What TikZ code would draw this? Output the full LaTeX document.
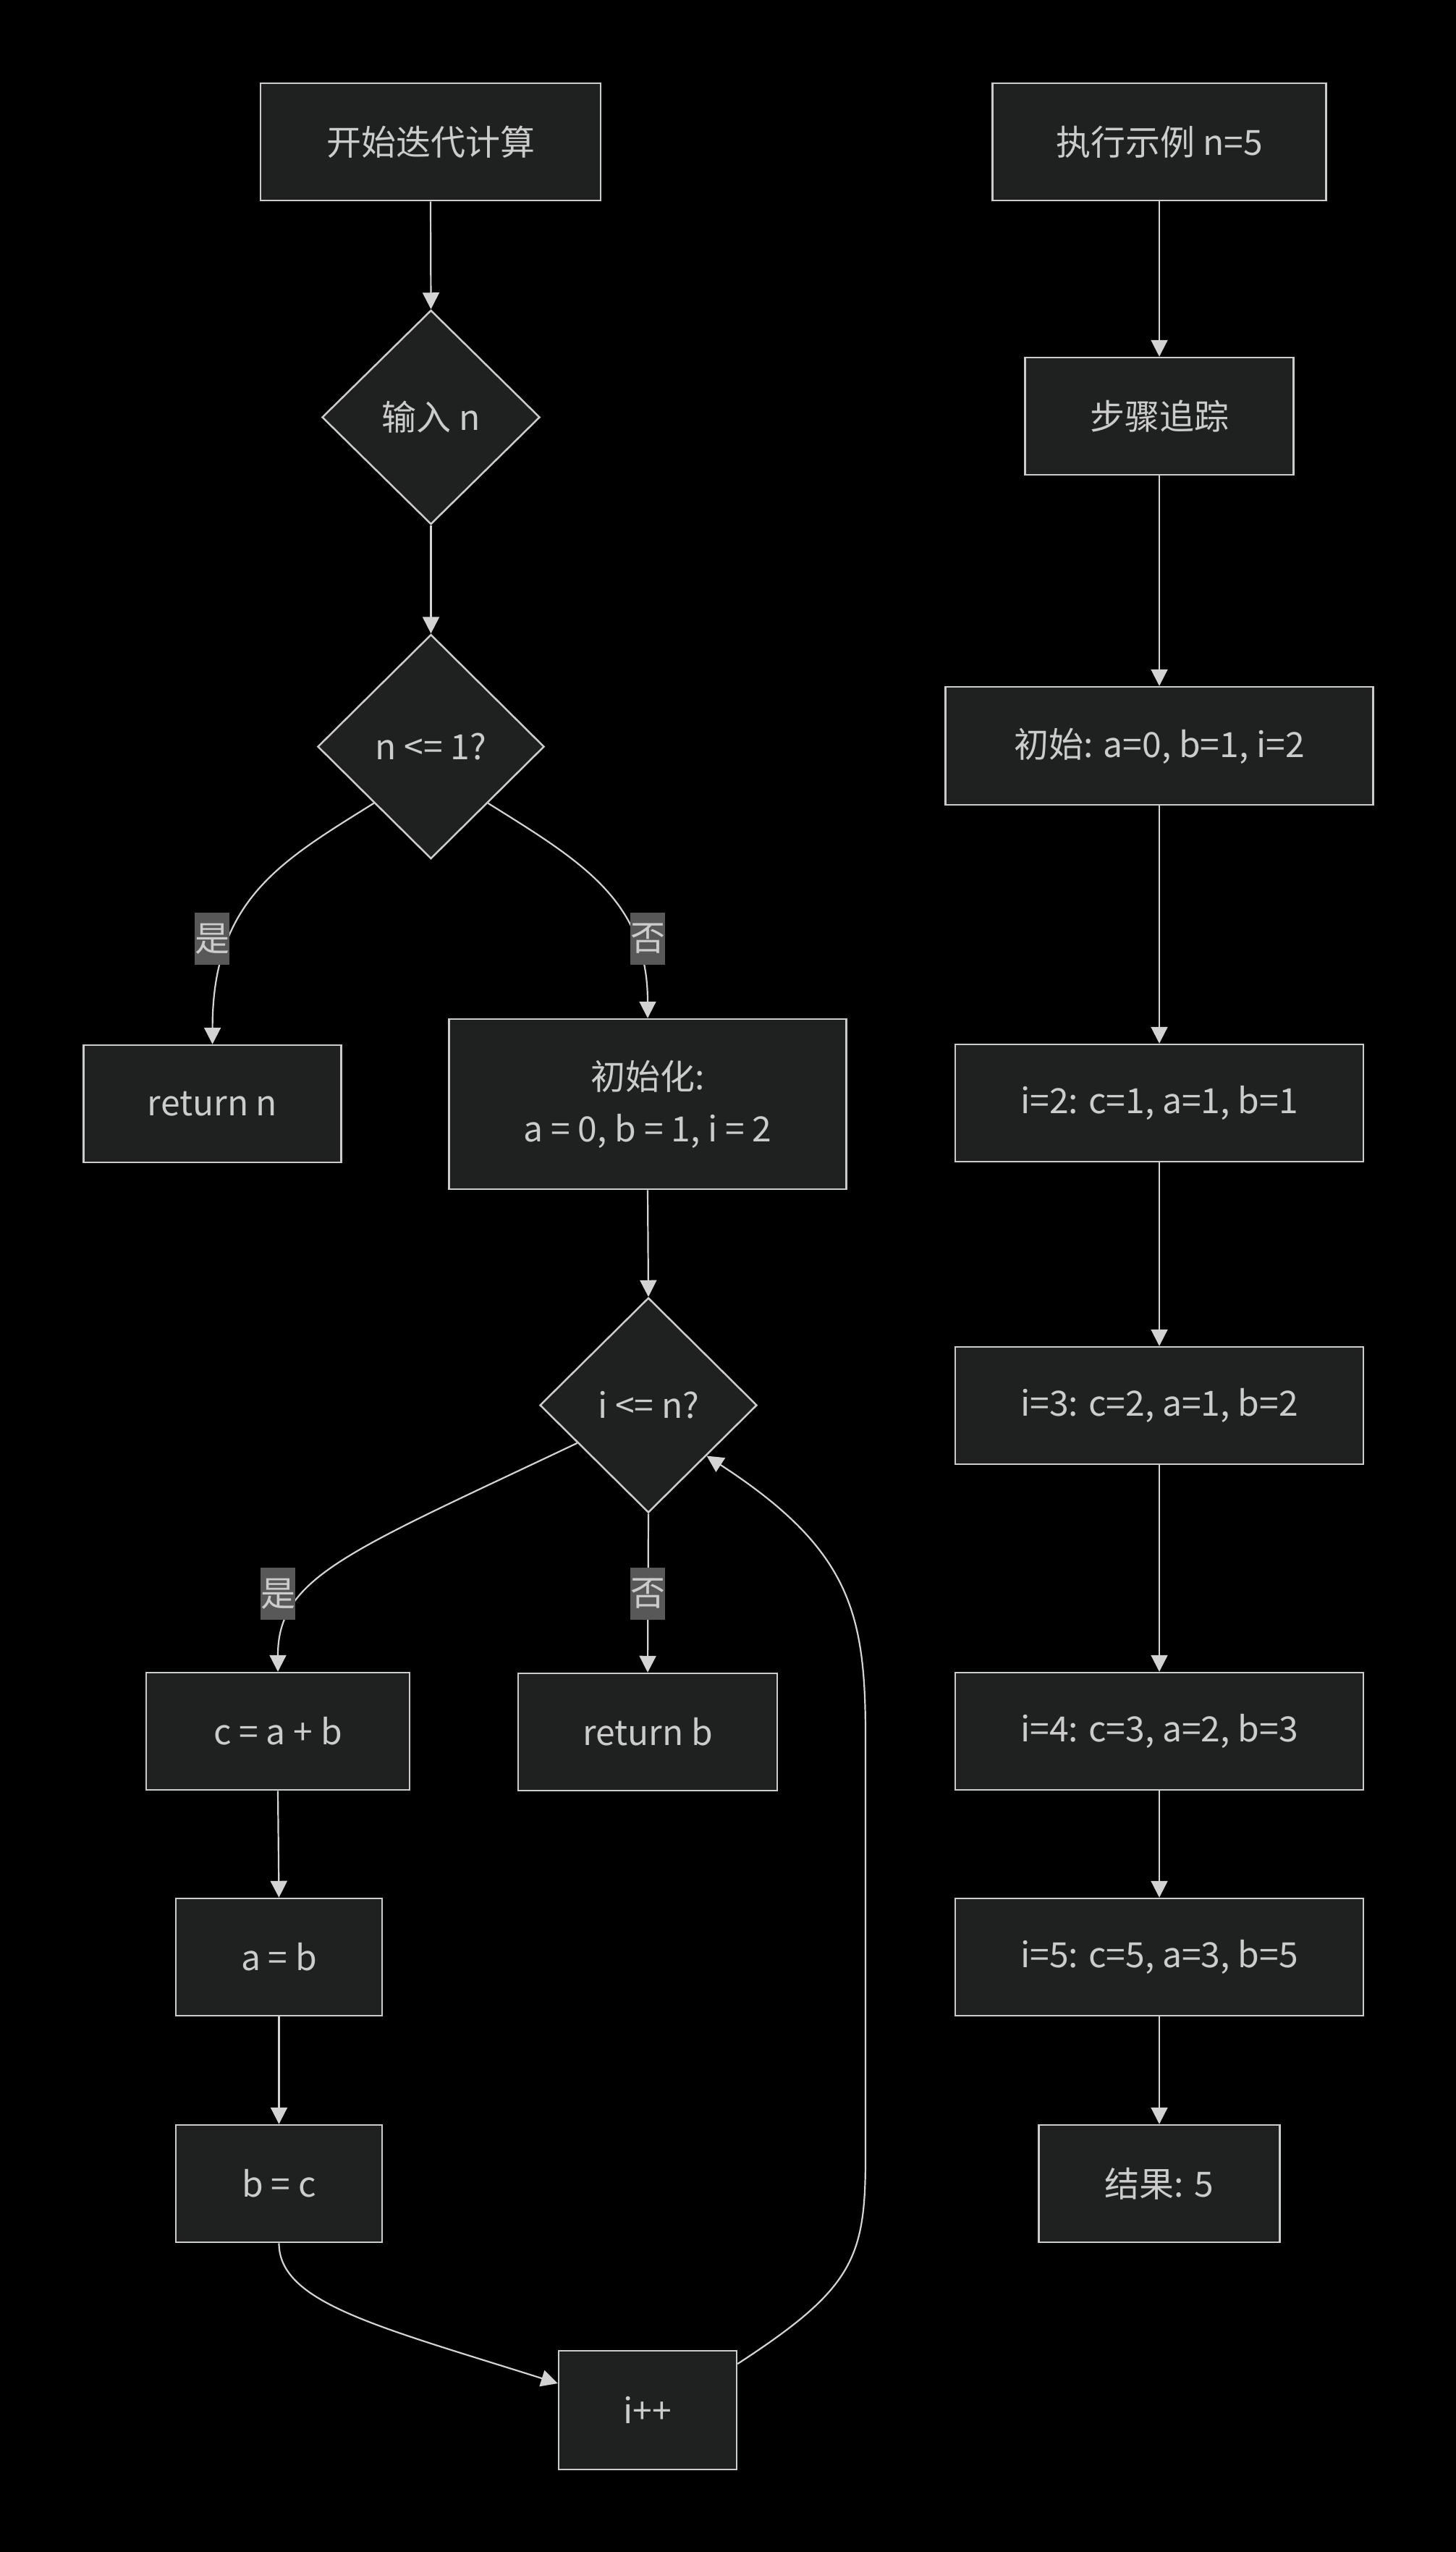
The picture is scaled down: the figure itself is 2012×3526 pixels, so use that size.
\documentclass[tikz,border=0pt]{standalone}
\usepackage{fontspec}
\setmainfont{Noto Sans CJK SC}
\usetikzlibrary{shapes.geometric,arrows.meta,calc}
\definecolor{nfill}{HTML}{1F2020}
\definecolor{nstroke}{HTML}{CCCCCC}
\definecolor{ntext}{HTML}{CCCCCC}
\definecolor{lbg}{HTML}{585858}
\definecolor{lcol}{HTML}{D3D3D3}
\begin{document}
\begin{tikzpicture}[x=1pt,y=-1pt,
  every node/.style={font=\fontsize{48}{72}\selectfont, text=ntext},
  box/.style={draw=nstroke, fill=nfill, line width=2.5pt, inner sep=0pt, minimum height=162pt},
  dia/.style={diamond, draw=nstroke, fill=nfill, line width=2.5pt, inner sep=0pt, aspect=1},
  conn/.style={draw=lcol, line width=2.2pt, -{Triangle[length=23pt,width=23pt]}},
  elab/.style={fill=lbg, inner sep=0pt, minimum width=48pt, minimum height=72pt}]
\fill[black] (0,0) rectangle (2012,3526);
\useasboundingbox (0,0) rectangle (2012,3526);

% left column
\node[box, minimum width=470pt] (s) at (595,196) {开始迭代计算};
\node[dia, minimum width=301pt, minimum height=296pt] (d1) at (595.5,576.5) {输入 n};
\node[dia, minimum width=313pt, minimum height=310pt] (d2) at (595.5,1031.6) {n <= 1?};
\node[box, minimum width=356pt] (rn) at (293.6,1525) {return n};
\node[box, minimum width=549pt, minimum height=235pt, align=center] (init) at (895,1525.5) {初始化:\\a = 0, b = 1, i = 2};
\node[dia, minimum width=300pt, minimum height=297pt] (d3) at (896,1941.5) {i <= n?};
\node[box, minimum width=364pt] (c) at (384,2392) {c = a + b};
\node[box, minimum width=358pt] (rb) at (895,2393) {return b};
\node[box, minimum width=285pt] (ab) at (385.5,2704) {a = b};
\node[box, minimum width=285pt] (bc) at (385.5,3017) {b = c};
\node[box, minimum width=246pt, minimum height=164pt] (inc) at (895,3330) {i++};

% right column
\node[box, minimum width=461pt] (r1) at (1602,196) {执行示例 n=5};
\node[box, minimum width=371pt] (r2) at (1602,575) {步骤追踪};
\node[box, minimum width=591pt, minimum height=163pt] (r3) at (1602,1030.5) {初始: a=0, b=1, i=2};
\node[box, minimum width=564pt] (r4) at (1602,1524) {i=2: c=1, a=1, b=1};
\node[box, minimum width=564pt] (r5) at (1602,1942) {i=3: c=2, a=1, b=2};
\node[box, minimum width=564pt] (r6) at (1602,2392) {i=4: c=3, a=2, b=3};
\node[box, minimum width=564pt] (r7) at (1602,2704) {i=5: c=5, a=3, b=5};
\node[box, minimum width=333pt] (r8) at (1602,3017) {结果: 5};

\coordinate (lp1) at (1196,2980);
\coordinate (lp2) at (1196,2400);

% left edges
\draw[conn] (s.south) -- (d1.north);
\draw[conn] (d1.south) -- (d2.north);
\draw[conn] (d2.south west) .. controls ($(d2.south west)+(-128,80)$) and ($(rn.north)+(0,-200)$) .. (rn.north);
\draw[conn] (d2.south east) .. controls ($(d2.south east)+(128,80)$) and ($(init.north)+(0,-163)$) .. (init.north);
\draw[conn] (init.south) -- (d3.north);
\draw[conn] (d3.208) .. controls ($(d3.208)+(-318,151)$) and ($(c.north)+(0,-131)$) .. (c.north);
\draw[conn] (d3.south) -- (rb.north);
\draw[conn] (c.south) -- (ab.north);
\draw[conn] (ab.south) -- (bc.north);
\draw[conn] (bc.south) .. controls ($(bc.south)+(0,82)$) and ($(inc.west)+(-250,-116)$) .. ($(inc.west)+(0,-37)$);
\draw[conn] ($(inc.east)+(0,-64)$) .. controls ($(inc.east)+(160,-168)$) and ($(lp1)+(0,140)$) .. (lp1) -- (lp2)
  .. controls ($(lp2)+(0,-170)$) and ($(d3.-41)+(200,130)$) .. (d3.-41);

% labels
\node[elab] (l1) at (293,1297) {是};
\node[elab] (l2) at (895,1297) {否};
\node[elab] (l3) at (384,2202) {是};
\node[elab] (l4) at (895,2202) {否};

% right edges
\draw[conn] (r1.south) -- (r2.north);
\draw[conn] (r2.south) -- (r3.north);
\draw[conn] (r3.south) -- (r4.north);
\draw[conn] (r4.south) -- (r5.north);
\draw[conn] (r5.south) -- (r6.north);
\draw[conn] (r6.south) -- (r7.north);
\draw[conn] (r7.south) -- (r8.north);
\end{tikzpicture}
\end{document}
